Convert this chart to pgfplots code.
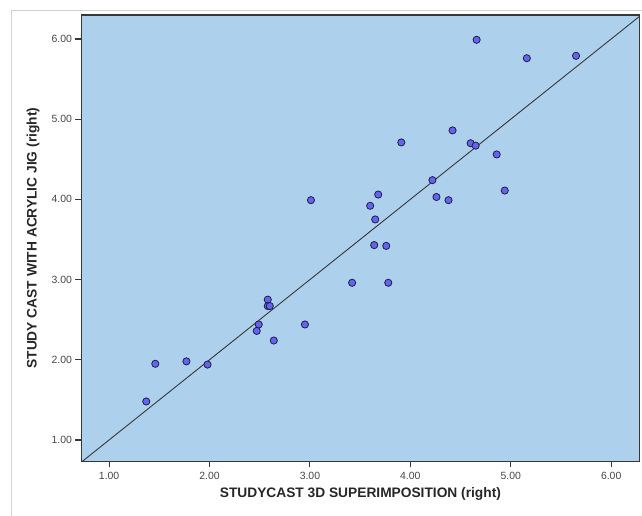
\documentclass[border=0pt]{standalone}
\usepackage{pgfplots}
\pgfplotsset{compat=1.18}
\usepackage{fontspec}
\setmainfont{Liberation Sans}
\definecolor{bgblue}{RGB}{173,208,237}
\definecolor{mk}{RGB}{100,100,238}
\definecolor{mkedge}{RGB}{30,30,70}
\definecolor{framegray}{RGB}{55,55,55}
\definecolor{ticktext}{RGB}{70,70,70}
\begin{document}
\begin{tikzpicture}
\useasboundingbox (-81.5bp,-54.7bp) rectangle (560.5bp,461.3bp);
\draw[gray!35, line width=0.8bp] (-70.5bp,-54.7bp) -- (-70.5bp,451.3bp) -- (560.5bp,451.3bp);
\begin{axis}[
  at={(0,0)}, anchor=south west,
  scale only axis,
  width=557.8bp, height=446.3bp,
  xmin=0.725, xmax=6.28,
  ymin=0.734, ymax=6.299,
  axis background/.style={fill=bgblue},
  axis line style={framegray, line width=1.3bp},
  xtick={1,2,3,4,5,6}, ytick={1,2,3,4,5,6},
  tick align=outside,
  major tick length=6bp,
  tick style={framegray, line width=1.1bp},
  xticklabel style={/pgf/number format/fixed, /pgf/number format/precision=2, /pgf/number format/fixed zerofill, font=\fontsize{10.5}{12}\selectfont, text=ticktext, yshift=-1bp},
  yticklabel style={/pgf/number format/fixed, /pgf/number format/precision=2, /pgf/number format/fixed zerofill, font=\fontsize{10.5}{12}\selectfont, text=ticktext, xshift=0bp},
  /pgf/number format/assume math mode=true,
  xtick pos=bottom, ytick pos=left,
  xlabel={STUDYCAST 3D SUPERIMPOSITION (right)},
  ylabel={STUDY CAST WITH ACRYLIC JIG (right)},
  xlabel style={font=\fontsize{13.8}{15}\selectfont\bfseries, text=black!85, at={(axis description cs:0.5,0)}, anchor=center, yshift=-33bp},
  ylabel style={font=\fontsize{13.8}{15}\selectfont\bfseries, text=black!85, at={(axis description cs:0,0.5)}, anchor=center, yshift=48.5bp},
  clip=true,
]
\addplot[framegray, line width=0.9bp, forget plot] coordinates {(0.7,0.7) (6.35,6.35)};
\addplot[only marks, mark=*, mark size=3.6bp, mark options={fill=mk, draw=mkedge, line width=0.8bp}] table {
x y
4.66 5.99
5.16 5.76
5.65 5.79
4.42 4.86
3.91 4.71
4.60 4.70
4.65 4.67
4.86 4.56
4.22 4.24
4.94 4.11
3.68 4.06
4.26 4.03
4.38 3.99
3.60 3.92
3.65 3.75
3.64 3.43
3.76 3.42
3.42 2.96
3.78 2.96
3.01 3.99
2.58 2.75
2.58 2.67
2.60 2.67
2.49 2.44
2.47 2.36
2.64 2.24
2.95 2.44
1.46 1.95
1.77 1.98
1.98 1.94
1.37 1.48
};
\end{axis}
\end{tikzpicture}
\end{document}
